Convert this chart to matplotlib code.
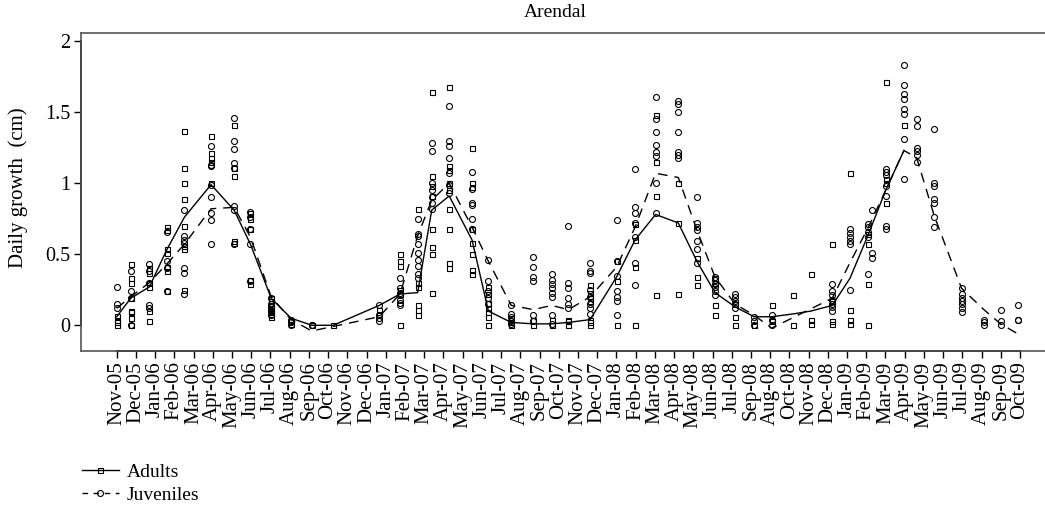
import numpy as np
import matplotlib.pyplot as plt
from matplotlib.lines import Line2D

plt.rcParams['font.family'] = ['Liberation Serif', 'DejaVu Serif']

month_labels = ['Nov-05', 'Dec-05',
                'Jan-06', 'Feb-06', 'Mar-06', 'Apr-06', 'May-06', 'Jun-06',
                'Jul-06', 'Aug-06', 'Sep-06', 'Oct-06', 'Nov-06', 'Dec-06',
                'Jan-07', 'Feb-07', 'Mar-07', 'Apr-07', 'May-07', 'Jun-07',
                'Jul-07', 'Aug-07', 'Sep-07', 'Oct-07', 'Nov-07', 'Dec-07',
                'Jan-08', 'Feb-08', 'Mar-08', 'Apr-08', 'May-08', 'Jun-08',
                'Jul-08', 'Sep-08', 'Aug-08', 'Oct-08', 'Nov-08', 'Dec-08',
                'Jan-09', 'Feb-09', 'Mar-09', 'Apr-09', 'May-09', 'Jun-09',
                'Jul-09', 'Aug-09', 'Sep-09', 'Oct-09']

# sampling dates, in months after Nov-05
adult_pos = [0, 0.73, 1.70, 2.60, 3.52, 4.91, 6.11, 6.96, 8.04, 9.07,
             10.15, 11.27, 13.66, 14.74, 15.66, 16.39, 17.30, 18.49, 19.34, 20.53,
             21.68, 22.63, 23.50, 24.63, 26.01, 26.97, 28.04, 29.22, 30.19, 31.13,
             32.17, 33.17, 34.08, 35.20, 36.12, 37.23, 38.15, 39.11, 40.01, 40.96]

adult_vals = [
    [0.065, 0.04, 0.02, 0.0],
    [0.43, 0.33, 0.30, 0.19, 0.10, 0.09, 0.05, 0.0],
    [0.40, 0.37, 0.30, 0.27, 0.10, 0.03],
    [0.69, 0.67, 0.54, 0.51, 0.41, 0.38, 0.24],
    [1.37, 1.11, 1.0, 0.89, 0.70, 0.56, 0.54, 0.25],
    [1.33, 1.21, 1.18, 1.15, 1.0],
    [1.41, 1.11, 1.05, 0.59, 0.58],
    [0.79, 0.75, 0.68, 0.32, 0.29],
    [0.19, 0.17, 0.14, 0.12, 0.10, 0.08, 0.06],
    [0.03, 0.01],
    [0.0],
    [0.0],
    [0.11, 0.08],
    [0.50, 0.45, 0.42, 0.25, 0.22, 0.0],
    [0.82, 0.30, 0.27, 0.14, 0.11, 0.07],
    [1.64, 1.05, 0.98, 0.91, 0.68, 0.55, 0.50, 0.23],
    [1.68, 1.12, 1.09, 1.0, 0.95, 0.82, 0.68, 0.44, 0.40],
    [1.25, 1.0, 0.97, 0.68, 0.58, 0.50, 0.39, 0.36],
    [0.27, 0.22, 0.16, 0.12, 0.09, 0.06, 0.0],
    [0.05, 0.02, 0.0],
    [0.04, 0.0],
    [0.04, 0.0],
    [0.04, 0.03, 0.0],
    [0.28, 0.23, 0.19, 0.17, 0.04, 0.02, 0.0],
    [0.45, 0.31, 0.0],
    [0.71, 0.60, 0.41, 0.0],
    [1.48, 1.15, 0.91, 0.21],
    [1.0, 0.72, 0.22],
    [0.47, 0.34, 0.28],
    [0.33, 0.30, 0.14, 0.07],
    [0.15, 0.06, 0.0],
    [0.0],
    [0.14, 0.03],
    [0.21, 0.0],
    [0.36, 0.04, 0.01],
    [0.57, 0.17, 0.03, 0.01],
    [1.07, 0.11, 0.04, 0.01],
    [0.64, 0.57, 0.29, 0.0],
    [1.71, 1.03, 1.0, 0.86],
    [1.41],
]

adult_mean = [0.06, 0.19, 0.27, 0.53, 0.76, 0.99, 0.81, 0.57, 0.19, 0.05,
              0.0, 0.0, 0.14, 0.22, 0.23, 0.81, 0.91, 0.60, 0.10, 0.02,
              0.01, 0.01, 0.02, 0.04, 0.34, 0.60, 0.78, 0.72, 0.45, 0.23,
              0.13, 0.06, 0.06, 0.08, 0.10, 0.14, 0.33, 0.64, 0.95, 1.23]

juv_pos = [0, 0.73, 1.70, 2.60, 3.52, 4.91, 6.11, 6.96, 8.04, 9.07,
           10.15, 13.66, 14.74, 15.66, 16.39, 17.30, 18.49, 19.34, 20.53, 21.68,
           22.63, 23.50, 24.63, 26.01, 26.97, 28.04, 29.22, 30.19, 31.13, 32.17,
           33.17, 34.08, 37.23, 38.15, 39.11, 39.32, 40.01, 40.96, 41.62, 42.54,
           43.96, 45.12, 45.99, 46.88]

juv_vals = [
    [0.27, 0.15, 0.12],
    [0.38, 0.24, 0.19, 0.0],
    [0.43, 0.38, 0.30, 0.14, 0.12],
    [0.66, 0.45, 0.40, 0.24],
    [0.81, 0.63, 0.60, 0.58, 0.40, 0.37, 0.22],
    [1.26, 1.13, 1.12, 0.99, 0.90, 0.79, 0.74, 0.57],
    [1.46, 1.30, 1.24, 1.14, 1.11, 0.84, 0.81, 0.57],
    [0.80, 0.76, 0.68, 0.57, 0.31],
    [0.19, 0.15, 0.13, 0.11, 0.09, 0.07],
    [0.04, 0.02, 0.0],
    [0.0, 0.0],
    [0.14, 0.07, 0.05, 0.03],
    [0.33, 0.26, 0.23, 0.21, 0.18, 0.16, 0.14],
    [0.75, 0.64, 0.63, 0.57, 0.51, 0.46, 0.42, 0.36, 0.33],
    [1.28, 1.23, 1.00, 0.95, 0.90, 0.86, 0.82],
    [1.54, 1.30, 1.26, 1.18, 1.07, 0.99, 0.93],
    [1.08, 0.96, 0.86, 0.85, 0.75, 0.68],
    [0.46, 0.31, 0.24, 0.19, 0.15],
    [0.14, 0.08, 0.06, 0.03, 0.01],
    [0.48, 0.41, 0.34, 0.31, 0.07, 0.03],
    [0.36, 0.32, 0.29, 0.26, 0.23, 0.20, 0.07, 0.01],
    [0.70, 0.30, 0.26, 0.19, 0.15, 0.12],
    [0.44, 0.38, 0.37, 0.25, 0.20, 0.15, 0.12, 0.08],
    [0.74, 0.45, 0.35, 0.24, 0.20, 0.17, 0.07],
    [1.10, 0.83, 0.79, 0.72, 0.62, 0.44, 0.28],
    [1.61, 1.45, 1.36, 1.27, 1.22, 1.19, 1.0, 0.79],
    [1.58, 1.56, 1.50, 1.36, 1.22, 1.20, 1.18],
    [0.90, 0.72, 0.69, 0.67, 0.59, 0.54, 0.44],
    [0.34, 0.32, 0.29, 0.27, 0.24, 0.21],
    [0.22, 0.20, 0.17, 0.15, 0.12],
    [0.06, 0.03, 0.0],
    [0.07, 0.04, 0.0],
    [0.29, 0.24, 0.21, 0.18, 0.15, 0.13, 0.10],
    [0.68, 0.65, 0.62, 0.59, 0.57, 0.25],
    [0.71, 0.69, 0.66, 0.62, 0.36],
    [0.81, 0.51, 0.47],
    [1.10, 1.08, 1.06, 0.98, 0.91, 0.70, 0.68],
    [1.83, 1.69, 1.63, 1.59, 1.52, 1.49, 1.31, 1.03],
    [1.45, 1.40, 1.25, 1.23, 1.20, 1.15],
    [1.38, 1.0, 0.98, 0.89, 0.86, 0.76, 0.69],
    [0.26, 0.22, 0.19, 0.17, 0.15, 0.12, 0.09],
    [0.04, 0.02, 0.0],
    [0.11, 0.03, 0.0],
    [0.14, 0.04, 0.04],
]

# None = no point on the smoothed line for that date
juv_mean = [0.12, 0.20, 0.30, 0.43, 0.57, 0.82, 0.83, 0.62, 0.20, 0.04,
            -0.04, 0.06, 0.22, 0.63, 0.88, 1.0, 0.69, 0.45, 0.14, 0.11,
            0.14, 0.11, 0.20, 0.41, 0.69, 1.07, 1.04, 0.67, 0.34, 0.15,
            0.07, -0.02, 0.19, 0.44, 0.69, None, 0.95, 1.23, 1.18, 0.77,
            0.26, 0.11, 0.01, -0.06]


def flatten(pos, vals):
    xs = np.repeat(pos, [len(v) for v in vals])
    ys = np.concatenate([np.array(v, dtype=float) for v in vals])
    return xs, ys


W, H = 1045, 514
fig = plt.figure(figsize=(W / 100, H / 100), dpi=100)
ax = fig.add_axes([81 / W, (H - 351) / H, 1 - 81 / W, 318 / H])

pt_style = dict(mfc='none', mec='black', mew=0.8, ls='none')
dash = (7, 5)

ad_x, ad_y = flatten(adult_pos, adult_vals)
ax.plot(ad_x, ad_y, marker='s', ms=3.6, **pt_style)
jx, jy = flatten(juv_pos, juv_vals)
ax.plot(jx, jy, marker='o', ms=4.3, **pt_style)

ax.plot(adult_pos, adult_mean, color='black', lw=1.0)
jm_x = [p for p, m in zip(juv_pos, juv_mean) if m is not None]
jm_y = [m for m in juv_mean if m is not None]
ax.plot(jm_x, jm_y, color='black', lw=1.0, dashes=dash)

ax.set_xlim(-1.857, 48.3)
ax.set_ylim(-0.181, 2.057)

ax.set_xticks(range(len(month_labels)))
ax.set_xticklabels(month_labels, rotation=90, fontsize=15)
ax.set_yticks([0, 0.5, 1, 1.5, 2])
ax.set_yticklabels(['0', '0.5', '1', '1.5', '2'], fontsize=14.5)
ax.tick_params(axis='both', direction='out', length=5, width=1, color='black', pad=2.5)

for side in ['top', 'bottom', 'left']:
    ax.spines[side].set_color('#555555')
    ax.spines[side].set_linewidth(1.2)
ax.spines['right'].set_visible(False)

# R-style axis lines spanning the tick range
ax.plot([0, len(month_labels) - 1], [0, 0], color='black', lw=1.4,
        transform=ax.get_xaxis_transform(), clip_on=False)
ax.plot([0, 0], [0, 2], color='black', lw=1.4,
        transform=ax.get_yaxis_transform(), clip_on=False)

fig.text(555 / W, 1 - 4 / H, 'Arendal', ha='center', va='top', fontsize=14)
fig.text(18 / W, 1 - 188 / H, 'Daily growth  (cm)', rotation=90,
         ha='center', va='center', fontsize=15)

handles = [Line2D([], [], color='black', lw=1.0, marker='s', ms=3.6, mfc='none', mew=0.8),
           Line2D([], [], color='black', lw=1.0, dashes=(4, 4), marker='o', ms=4.3, mfc='none', mew=0.8)]
fig.legend(handles, ['Adults', 'Juveniles'], loc='upper left',
           bbox_to_anchor=(82 / W, 1 - 463 / H), frameon=False, fontsize=14,
           handlelength=1.9, handletextpad=0.4, labelspacing=0.3,
           borderpad=0, borderaxespad=0)

fig.savefig('out.png', dpi=100)
